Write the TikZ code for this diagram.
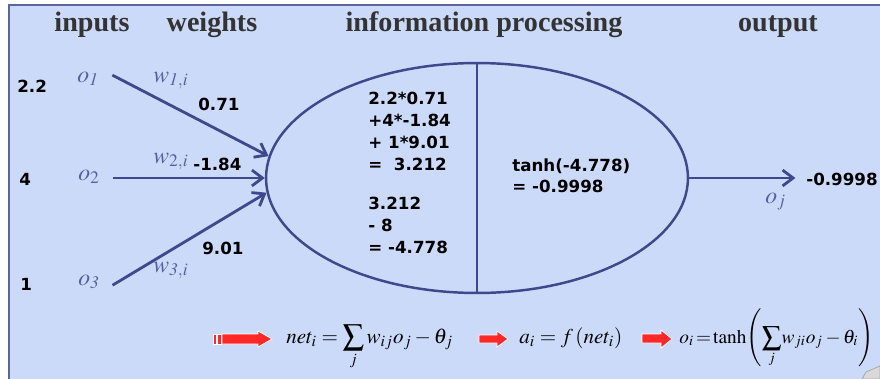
\documentclass[tikz,border=0pt]{standalone}
\usepackage{mathptmx}
\usepackage[no-math]{fontspec}
\setmainfont{Liberation Serif}
\newfontfamily\valfont{DejaVu Sans}
\usetikzlibrary{arrows.meta,shapes.geometric}

\definecolor{panelblue}{RGB}{204,218,250}
\definecolor{edgeblue}{RGB}{63,72,140}
\definecolor{labelblue}{RGB}{85,95,165}
\definecolor{headgray}{RGB}{51,51,51}
\definecolor{arrowred}{RGB}{255,40,40}

\begin{document}
\begin{tikzpicture}[x=0.02cm, y=-0.02cm,
    header/.style={font=\fontsize{16}{18}\selectfont\bfseries, text=headgray, anchor=base},
    value/.style={font=\valfont\bfseries\fontsize{9.5}{12.5}\selectfont, anchor=base west, inner sep=0pt},
    block/.style={value, anchor=north west, align=left},
    sym/.style={text=labelblue, font=\fontsize{13.5}{15}\selectfont, anchor=base west, inner sep=0pt},
    formula/.style={font=\fontsize{12}{14}\selectfont, anchor=base west, inner sep=0pt},
    link/.style={draw=edgeblue, line width=1.6pt, -{Straight Barb[length=6pt,width=9pt]}},
    redarrow/.style={fill=arrowred, draw=white, line width=0.4pt}]

    % === Panel ===
    \fill[white] (0,0) rectangle (880,379);
    \useasboundingbox (0,0) rectangle (880,379);
    \fill[panelblue] (9,5) rectangle (880,379);
    \draw[edgeblue!85, line width=1pt] (9,379) -- (9,5) -- (880,5);

    % === Column headers ===
    \node[header] (hin)   at (92,31)  {inputs};
    \node[header] (hw)    at (212,31) {weights};
    \node[header] (hproc) at (484,31) {information processing};
    \node[header] (hout)  at (778,31) {output};

    % === Inputs ===
    \node[value] (x1) at (17,92)  {2.2};
    \node[value] (x2) at (19,185) {4};
    \node[value] (x3) at (20,290) {1};
    \node[sym] (o1) at (77,82)  {$o_{\mathit{1}}$};
    \node[sym] (o2) at (78,180) {$o_2$};
    \node[sym] (o3) at (78,285) {$o_{\mathit{3}}$};

    % === Neuron: sum | activation ===
    \node[draw=edgeblue, line width=1.4pt, ellipse, minimum width=8.44cm,
          minimum height=4.6cm, inner sep=0pt] (proc) at (477,178) {};
    \draw[edgeblue, line width=1.4pt] (proc.north) -- (proc.south);

    \node[block] (sumtxt)  at (368,92)  {2.2*0.71\\+4*-1.84\\+ 1*9.01\\=~~3.212};
    \node[block] (biastxt) at (368,197) {3.212\\- 8\\= -4.778};
    \node[block] (acttxt)  at (512,158) {tanh(-4.778)\\= -0.9998};

    % === Weighted links ===
    \draw[link] ([xshift=7.5pt,yshift=2pt]o1.east) -- (proc.174.5);
    \draw[link] ([xshift=7.5pt]o2.east |- proc.west) -- (proc.west);
    \draw[link] ([xshift=7pt,yshift=-2pt]o3.east) -- (proc.184.4);

    \node[sym] (w1) at (153,82)  {$w_{\mathit{1},i}$};
    \node[sym] (w2) at (153,163) {$w_{2,i}$};
    \node[sym] (w3) at (153,272) {$w_{\mathit{3},i}$};
    \node[value] (v1) at (198,110) {0.71};
    \node[value] (v2) at (193,170) {-1.84};
    \node[value] (v3) at (202,254) {9.01};

    % === Output ===
    \node[value] (outv) at (806,185) {-0.9998};
    \coordinate (oend) at ([xshift=-6pt]outv.west);
    \draw[link] (proc.east) -- (proc.east -| oend);
    \node[sym] (oj) at (765,203) {$o_j$};

    % === Formula line with red block arrows ===
    \fill[redarrow] (213,334) rectangle (216,344);
    \fill[redarrow] (217,334) rectangle (221,344);
    \draw[redarrow] (222,334) -- (258,334) -- (258,331) -- (272,339)
        -- (258,347) -- (258,344) -- (222,344) -- cycle;
    \node[formula] (neteq) at (286,343)
        {$\displaystyle net_i = \sum_j w_{ij} o_j - \theta_j$};

    \draw[redarrow] (479,335) -- (497,335) -- (497,331) -- (508,339)
        -- (497,347) -- (497,343) -- (479,343) -- cycle;
    \node[formula] (acteq) at (519,343) {$a_i = f\left(net_i\right)$};

    \draw[redarrow] (642,334) -- (661,334) -- (661,330) -- (672,339)
        -- (661,348) -- (661,343) -- (642,343) -- cycle;
    \node[formula, font=\fontsize{11}{13}\selectfont] (outeq) at (679,343)
        {$o_i \!=\! \tanh\!\left(\displaystyle\sum_j\! w_{ji} o_j \mathbin{-} \theta_i\right)$};

    % page curl, bottom right
    \filldraw[fill=gray!30, draw=gray!70, line width=0.4pt]
        (862,379) -- (866,372) -- (880,366) -- (880,379) -- cycle;

\end{tikzpicture}
\end{document}
